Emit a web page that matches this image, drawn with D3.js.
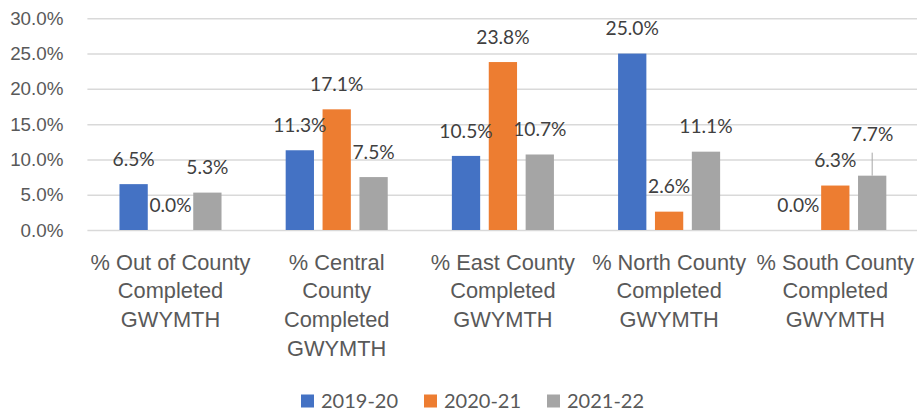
<!DOCTYPE html>
<html>
<head>
  <meta http-equiv="Content-Type" content="text/html;charset=utf-8">
  <title>GWYMTH completion by region</title>
  <script src="https://d3js.org/d3.v7.min.js"></script>
  <style type="text/css">
    body { margin: 0; background: #fff; }
    svg { font-family: Lato, "Open Sans", sans-serif; }
    .tick text { fill: #595959; }
    .label { fill: #404040; font-size: 19.2px; }
    .legend text { fill: #595959; font-size: 20px; }
  </style>
</head>
<body>
  <svg width="917" height="414"></svg>
  <script type="text/javascript">
    const categories = ['Out of County', 'Central', 'East', 'North', 'South'];
    const categoryLines = [
      ['% Out of County', 'Completed', 'GWYMTH'],
      ['% Central', 'County', 'Completed', 'GWYMTH'],
      ['% East County', 'Completed', 'GWYMTH'],
      ['% North County', 'Completed', 'GWYMTH'],
      ['% South County', 'Completed', 'GWYMTH']
    ];
    const seriesNames = ['2019-20', '2020-21', '2021-22'];
    const values2019 = [0.065, 0.113, 0.105, 0.250, 0.000];
    const values2020 = [0.000, 0.171, 0.238, 0.026, 0.063];
    const values2021 = [0.053, 0.075, 0.107, 0.111, 0.077];
    const yTicks = [0, 0.05, 0.10, 0.15, 0.20, 0.25, 0.30];
    const colors = ['#4472C4', '#ED7D31', '#A5A5A5'];
    // label moved up by hand in the original (South 2021-22), drawn with a leader line
    const liftedLabel = { category: 'South', series: '2021-22', lift: 16 };

    const series = [values2019, values2020, values2021];
    const svg = d3.select('svg');
    const plot = { left: 87.4, right: 918.4, top: 18.3, bottom: 230 };

    const x = d3.scaleBand()
        .domain(categories)
        .range([plot.left, plot.right])
        .paddingInner(0.386)
        .paddingOuter(0.193);
    const xs = d3.scaleBand()
        .domain(seriesNames)
        .range([0, x.bandwidth()])
        .paddingInner(0.233);
    const y = d3.scaleLinear().domain([0, 0.30]).range([plot.bottom, plot.top]);

    // gridlines + y tick labels
    const yAxis = svg.append('g')
        .attr('transform', `translate(${plot.left},0)`)
        .call(d3.axisLeft(y)
          .tickValues(yTicks)
          .tickFormat(d3.format('.1%'))
          .tickSize(-(917 - plot.left))
          .tickPadding(24));
    yAxis.select('.domain').remove();
    yAxis.selectAll('.tick line').attr('stroke', '#D9D9D9').attr('stroke-width', 1.5);
    yAxis.selectAll('.tick text').attr('font-size', '18.8px');

    // category labels
    const xAxis = svg.append('g')
        .attr('transform', `translate(0,${plot.bottom})`)
        .call(d3.axisBottom(x).tickSize(0).tickFormat(''));
    xAxis.select('.domain').remove();
    xAxis.selectAll('.tick text').remove();
    xAxis.selectAll('.tick').each(function (d, i) {
      const t = d3.select(this).append('text')
          .attr('text-anchor', 'middle')
          .attr('font-size', '21.8px')
          .attr('fill', '#595959');
      categoryLines[i].forEach((line, k) => {
        t.append('tspan').attr('x', 0).attr('y', 32 + k * 28.7).attr('dy', '0.35em').text(line);
      });
    });

    // bars
    const rows = [];
    categories.forEach((c, i) => {
      seriesNames.forEach((s, j) => rows.push({ category: c, series: s, value: series[j][i], j }));
    });

    svg.append('g').selectAll('rect').data(rows)
        .enter()
        .append('rect')
        .attr('x', (d) => x(d.category) + xs(d.series))
        .attr('y', (d) => y(d.value))
        .attr('width', xs.bandwidth())
        .attr('height', (d) => y(0) - y(d.value))
        .attr('fill', (d) => colors[d.j]);

    // data labels
    const lift = (d) => (d.category === liftedLabel.category && d.series === liftedLabel.series) ? liftedLabel.lift : 0;
    const labels = svg.append('g');
    labels.selectAll('text').data(rows)
        .enter()
        .append('text')
        .attr('class', 'label')
        .attr('text-anchor', 'middle')
        .attr('dy', '0.35em')
        .attr('x', (d) => x(d.category) + xs(d.series) + xs.bandwidth() / 2)
        .attr('y', (d) => y(d.value) - 25 - lift(d))
        .text((d) => d3.format('.1%')(d.value));
    labels.selectAll('line').data(rows.filter((d) => lift(d) > 0))
        .enter()
        .append('line')
        .attr('x1', (d) => x(d.category) + xs(d.series) + xs.bandwidth() / 2)
        .attr('x2', (d) => x(d.category) + xs(d.series) + xs.bandwidth() / 2)
        .attr('y1', (d) => y(d.value))
        .attr('y2', (d) => y(d.value) - 25 - lift(d) + 18)
        .attr('stroke', '#A6A6A6')
        .attr('stroke-width', 1);

    // legend
    const legend = svg.append('g').attr('class', 'legend')
        .attr('transform', 'translate(301,401)');
    const item = legend.selectAll('g').data(seriesNames)
        .enter()
        .append('g')
        .attr('transform', (d, i) => `translate(${i * 123},0)`);
    item.append('rect')
        .attr('x', 0).attr('y', -6.5).attr('width', 13).attr('height', 13)
        .attr('fill', (d, i) => colors[i]);
    item.append('text')
        .attr('x', 20).attr('dy', '0.35em')
        .text((d) => d);
  </script>
</body>
</html>
